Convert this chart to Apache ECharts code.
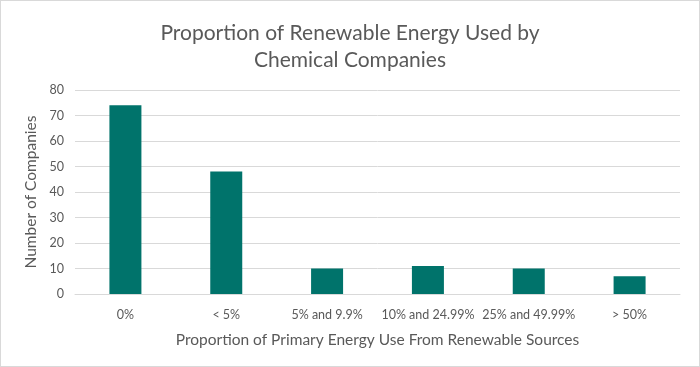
<!DOCTYPE html>
<html><head><meta charset="utf-8">
<script src="https://cdn.jsdelivr.net/npm/echarts@6/dist/echarts.min.js"></script>
<style>html,body{margin:0;padding:0;background:#fff}#c{width:698px;height:365px;border:1px solid #d9d9d9}</style>
</head><body><div id="c"></div>
<script>
const categories = ['0%', '< 5%', '5% and 9.9%', '10% and 24.99%', '25% and 49.99%', '> 50%'];
const companies = [74, 48, 10, 11, 10, 7];
const yTicks = [0, 10, 20, 30, 40, 50, 60, 70, 80];
const FONT = 'Lato';
const chart = echarts.init(document.getElementById('c'), null, {renderer: 'canvas'});
chart.setOption({
  animation: false,
  title: {
    text: 'Proportion of Renewable Energy Used by\nChemical Companies',
    left: 'center', top: 14,
    textStyle: {fontFamily: FONT, fontSize: 21, fontWeight: 'normal', color: '#595959', lineHeight: 27}
  },
  grid: {left: 74, right: 19, top: 89, bottom: 72},
  xAxis: {
    type: 'category', data: categories,
    axisLine: {lineStyle: {color: '#d9d9d9', width: 1}},
    axisTick: {show: false},
    axisLabel: {fontFamily: FONT, fontSize: 12.5, color: '#595959', margin: 14, interval: 0},
    name: 'Proportion of Primary Energy Use From Renewable Sources',
    nameLocation: 'middle', nameGap: 38,
    nameTextStyle: {fontFamily: FONT, fontSize: 15.5, color: '#595959'}
  },
  yAxis: {
    type: 'value', min: yTicks[0], max: yTicks[yTicks.length - 1], interval: 10,
    axisLine: {show: false}, axisTick: {show: false},
    splitLine: {lineStyle: {color: '#d9d9d9', width: 1}},
    axisLabel: {fontFamily: FONT, fontSize: 12.5, color: '#595959', margin: 11},
    name: 'Number of Companies', nameLocation: 'middle', nameGap: 35,
    nameTextStyle: {fontFamily: FONT, fontSize: 15.5, color: '#595959'}
  },
  series: [{
    type: 'bar', data: companies, barWidth: 32,
    itemStyle: {color: '#00736b'}
  }]
});
</script></body></html>
